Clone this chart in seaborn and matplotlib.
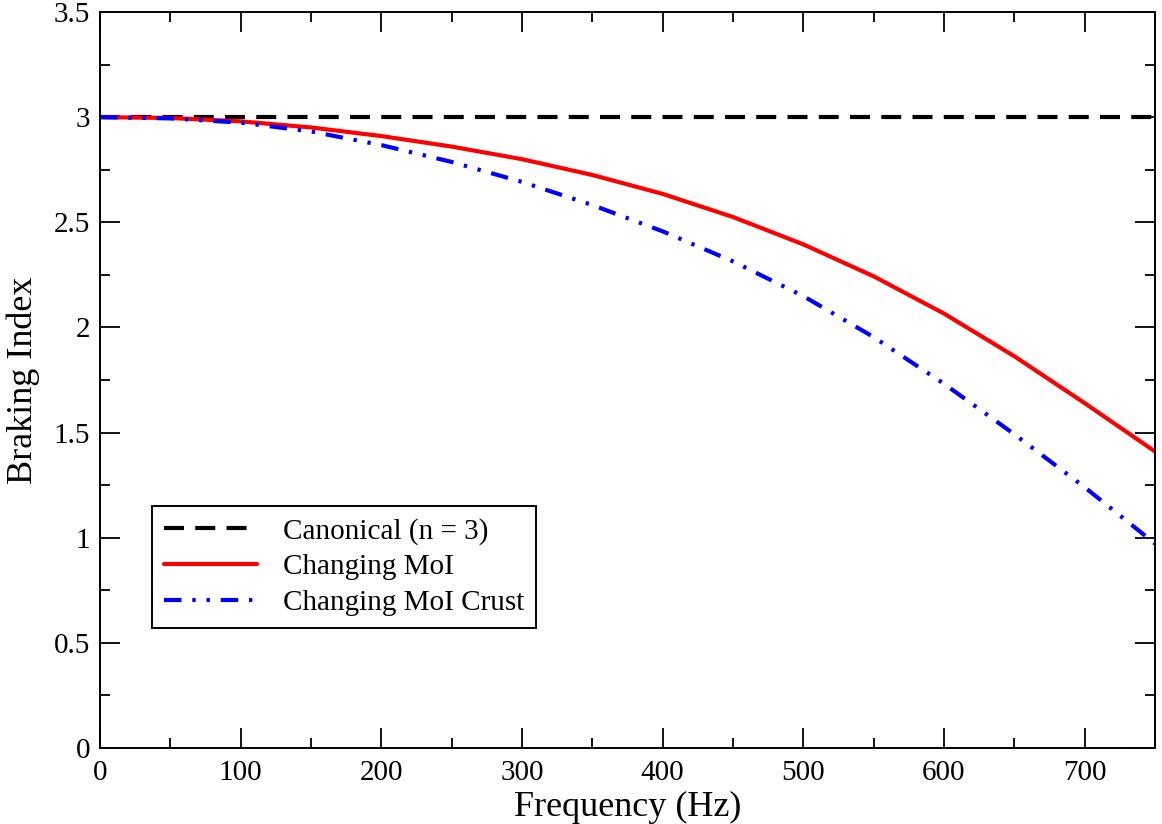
import numpy as np
import pandas as pd
import matplotlib
matplotlib.use("Agg")
import matplotlib.pyplot as plt
import seaborn as sns
from matplotlib.ticker import MultipleLocator

# ---- data ----
freq = [0, 50, 100, 150, 200, 250, 300, 350, 400, 450, 500, 550, 600, 650, 700, 750]
canonical = [3.0] * len(freq)
moi = [3.0, 2.996, 2.98, 2.951, 2.91, 2.86, 2.80, 2.725, 2.635, 2.525, 2.395, 2.243, 2.066, 1.863, 1.64, 1.41]
moi_crust = [3.0, 2.994, 2.974, 2.932, 2.867, 2.787, 2.692, 2.582, 2.457, 2.314, 2.149, 1.954, 1.732, 1.492, 1.24, 0.972]
labels = ["Canonical (n = 3)", "Changing MoI", "Changing MoI Crust"]
xticks = [0, 100, 200, 300, 400, 500, 600, 700]
yticks = [0, 0.5, 1, 1.5, 2, 2.5, 3, 3.5]
yticklabels = ["0", "0.5", "1", "1.5", "2", "2.5", "3", "3.5"]

sns.set_theme(style="ticks")
plt.rcParams['font.family'] = ['Liberation Serif', 'DejaVu Serif']
plt.rcParams['text.color'] = 'black'
plt.rcParams['axes.labelcolor'] = 'black'

fig = plt.figure(figsize=(11.62, 8.24), dpi=100)
ax = fig.add_axes([100 / 1162, 76 / 824, 1055 / 1162, 736 / 824])

df = pd.DataFrame({"freq": freq, "canonical": canonical, "moi": moi, "crust": moi_crust})

lw = 3.0
sns.lineplot(data=df, x="freq", y="canonical", ax=ax, color="black", lw=lw, label=labels[0])
sns.lineplot(data=df, x="freq", y="moi", ax=ax, color="#ff0000", lw=lw, label=labels[1])
sns.lineplot(data=df, x="freq", y="crust", ax=ax, color="#0000ff", lw=lw, label=labels[2])

lines = ax.get_lines()
lines[0].set_dashes([4.8, 2.7])
lines[0].set_dash_capstyle("butt")
lines[2].set_dashes([4.2, 2.6, 0.8, 2.6, 0.8, 2.6])
lines[2].set_dash_capstyle("butt")

ax.set_xlim(0, 750)
ax.set_ylim(0, 3.5)
ax.set_xticks(xticks)
ax.set_xticklabels([str(v) for v in xticks])
ax.set_yticks(yticks)
ax.set_yticklabels(yticklabels)
ax.xaxis.set_minor_locator(MultipleLocator(50))
ax.yaxis.set_minor_locator(MultipleLocator(0.25))

ax.tick_params(which="both", direction="in", top=True, right=True, colors="black",
               width=1.3, labelsize=21)
ax.tick_params(which="major", length=14.5)
ax.tick_params(axis="x", which="major", pad=9)
ax.tick_params(axis="y", which="major", pad=7)
ax.tick_params(which="minor", length=7.2)
for s in ax.spines.values():
    s.set_linewidth(1.4)
    s.set_color("black")

ax.set_xlabel("Frequency (Hz)", fontsize=26, color="black", labelpad=3)
ax.set_ylabel("Braking Index", fontsize=26, color="black", labelpad=10)

leg = ax.legend(loc="upper left", bbox_to_anchor=(152 / 1162, 1 - 506 / 824),
                bbox_transform=fig.transFigure, fontsize=21, frameon=True,
                fancybox=False, handlelength=3.2, handletextpad=0.9,
                borderpad=0.4, labelspacing=0.32, borderaxespad=0)
leg.get_frame().set_edgecolor("black")
leg.get_frame().set_linewidth(1.4)
leg.get_frame().set_alpha(1)
for t in leg.get_texts():
    t.set_color("black")

fig.savefig("out.png", dpi=100)
